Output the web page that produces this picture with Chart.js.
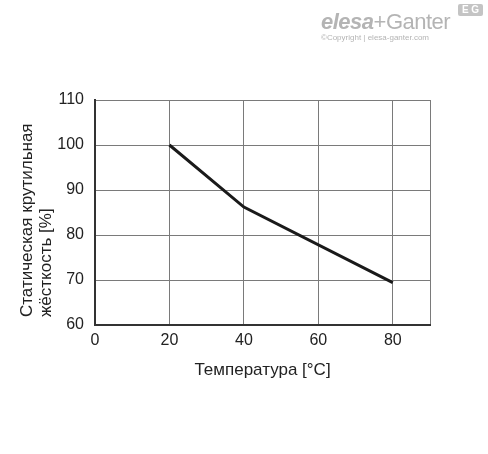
<!DOCTYPE html>
<html>
<head>
<meta charset="utf-8">
<script src="https://cdn.jsdelivr.net/npm/chart.js@4"></script>
<style>
  body { margin: 0; background: #fff; }
  .wrap { position: relative; width: 488px; height: 454px; }
  .logo { position: absolute; left: 321px; top: 9px; font-family: "Liberation Sans", Arial, sans-serif; color: #b4b4b4; }
  .logo .name { font-size: 22px; letter-spacing: -0.5px; }
  .logo .name b { font-weight: 900; font-style: italic; }
  .logo .copy { font-size: 8px; margin-top: -2px; }
  .eg { position: absolute; left: 458px; top: 4px; width: 25px; height: 12px; background: #c4c4c4; color: #fff; font: bold 10px "Liberation Sans", Arial, sans-serif; text-align: center; line-height: 12px; border-radius: 2px; }
</style>
</head>
<body>
<div class="wrap">
  <canvas id="myChart" width="488" height="454"></canvas>
  <div class="logo"><div class="name"><b>elesa</b>+Ganter</div><div class="copy">©Copyright | elesa-ganter.com</div></div>
  <div class="eg">E G</div>
</div>
<script>
// data
const temps = [20, 40, 80];
const stiffness = [100, 86.2, 69.4];
const xTicks = [0, 20, 40, 60, 80];
const yTicks = [60, 70, 80, 90, 100, 110];
const yTitle = ['Статическая крутильная', 'жёсткость [%]'];

const fam = '"Liberation Sans", Arial, sans-serif';
const font = { family: fam, size: 16 };

// y title: two lines, both starting at the bottom
const yTitlePlugin = {
  id: 'yTitle',
  afterDraw(chart) {
    const c = chart.ctx;
    c.save();
    c.font = '17px ' + fam;
    c.fillStyle = '#222';
    c.textAlign = 'left';
    c.textBaseline = 'alphabetic';
    [32, 51].forEach((x, i) => {
      c.save();
      c.translate(x, 317);
      c.rotate(-Math.PI / 2);
      c.fillText(yTitle[i], 0, 0);
      c.restore();
    });
    c.restore();
  }
};

var ctx = document.getElementById('myChart');
var chart = new Chart(ctx, {
  type: 'line',
  data: {
    datasets: [{
      data: temps.map((t, i) => ({ x: t, y: stiffness[i] })),
      borderColor: '#1a1a1a',
      borderWidth: 3,
      pointRadius: 0,
      tension: 0
    }]
  },
  options: {
    responsive: false,
    animation: false,
    layout: { padding: { top: 100, right: 58, bottom: 69, left: 0 } },
    plugins: { legend: { display: false }, tooltip: { enabled: false } },
    scales: {
      x: {
        type: 'linear',
        min: 0,
        max: 90,
        afterBuildTicks: s => { s.ticks = xTicks.concat([90]).map(v => ({ value: v })); },
        afterFit: s => { s.height = 60; },
        ticks: {
          font: font, color: '#222', padding: 6, maxRotation: 0,
          callback: v => xTicks.includes(v) ? v : ''
        },
        grid: { color: '#7a7a7a', lineWidth: 1, drawTicks: false },
        border: { color: '#333', width: 2 },
        title: { display: true, text: 'Температура [°C]', font: { family: fam, size: 17 }, color: '#222', padding: { top: 4 } }
      },
      y: {
        min: 60,
        max: 110,
        afterBuildTicks: s => { s.ticks = yTicks.map(v => ({ value: v })); },
        afterFit: s => { s.width = 95; },
        ticks: { font: font, color: '#222', padding: 11 },
        grid: { color: '#7a7a7a', lineWidth: 1, drawTicks: false },
        border: { color: '#333', width: 2 }
      }
    }
  },
  plugins: [yTitlePlugin]
});
</script>
</body>
</html>
